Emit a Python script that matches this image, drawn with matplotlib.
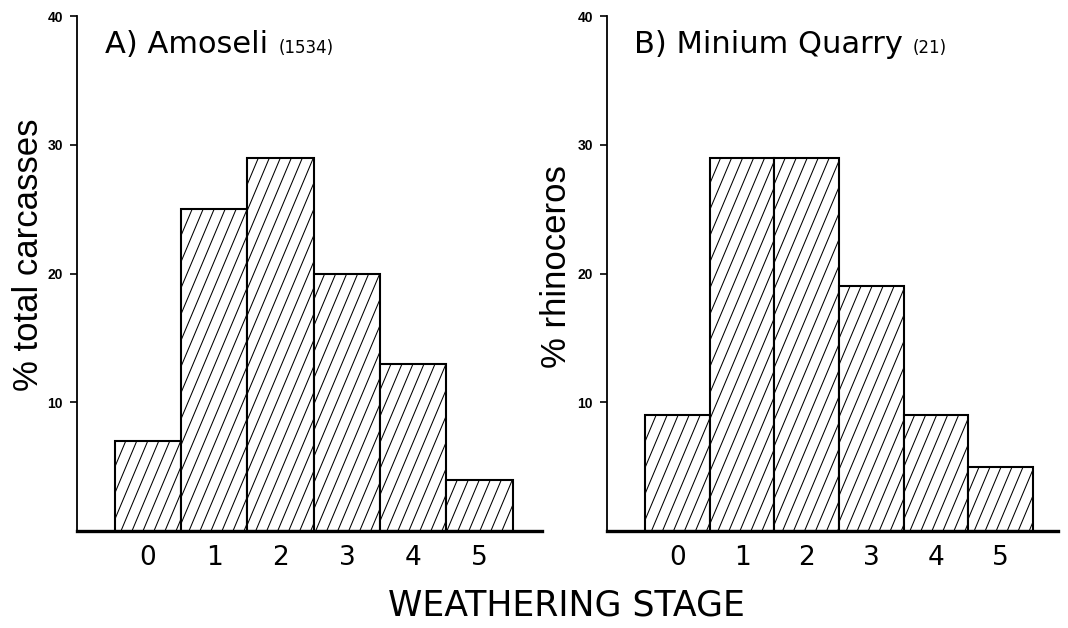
import matplotlib
matplotlib.use("Agg")
import matplotlib.pyplot as plt
import numpy as np
from matplotlib.collections import LineCollection
from matplotlib.transforms import IdentityTransform

stages = [0, 1, 2, 3, 4, 5]
stage_labels = ["0", "1", "2", "3", "4", "5"]
amboseli_pct = [7, 25, 29, 20, 13, 4]
minium_pct = [9, 29, 29, 19, 9, 5]
yticks = [10, 20, 30, 40]
ytick_labels = ["10", "20", "30", "40"]

plt.rcParams['font.family'] = ['DejaVu Sans']

fig = plt.figure(figsize=(10.68, 6.28), dpi=100)
axA = fig.add_axes([77/1068, 97/628, 465/1068, 515/628])
axB = fig.add_axes([607/1068, 97/628, 451/1068, 515/628])


def hatch_bars(ax, bars):
    # steep diagonal hatch lines clipped to each bar (decoration only)
    fig.canvas.draw()
    for b in bars:
        bb = b.get_window_extent()
        x0, x1, y0, y1 = bb.x0, bb.x1, bb.y0, bb.y1
        h = y1 - y0
        slope = 0.42  # dx per dy, pixels
        segs = []
        xs = np.arange(x0 - h * slope, x1 + 11, 11.0)
        for xs0 in xs:
            segs.append([(xs0, y0), (xs0 + h * slope, y1)])
        lc = LineCollection(segs, colors='black', linewidths=0.75,
                            transform=IdentityTransform(), zorder=1.5)
        ax.add_collection(lc, autolim=False)
        lc.set_clip_path(b)


def panel(ax, vals, xlim, title, tx):
    bars = ax.bar(stages, vals, width=1.0, color='white', edgecolor='black',
                  linewidth=1.5, zorder=1)
    ax.set_xlim(*xlim)
    ax.set_ylim(0, 40)
    ax.spines['top'].set_visible(False)
    ax.spines['right'].set_visible(False)
    ax.spines['left'].set_bounds(0, 40)
    ax.spines['left'].set_linewidth(1.3)
    ax.spines['bottom'].set_linewidth(2.4)
    ax.spines['bottom'].set_zorder(3)
    ax.set_yticks(yticks)
    ax.set_yticklabels(ytick_labels, fontsize=10, fontweight='bold',
                       family=['Liberation Sans Narrow', 'Liberation Sans'])
    ax.tick_params(axis='y', length=5, width=1.2, pad=5)
    ax.set_xticks(stages)
    ax.set_xticklabels(stage_labels, fontsize=19)
    ax.tick_params(axis='x', length=0, pad=10)
    ax.text(tx, (531 - 53) / 515, title, transform=ax.transAxes,
            fontsize=22, ha='left', va='baseline')
    return bars


barsA = panel(axA, amboseli_pct, (-1.07, 5.94), "A) Amoseli", (105 - 77) / 465)
barsB = panel(axB, minium_pct, (-1.09, 5.89), "B) Minium Quarry", (634 - 607) / 451)

axA.text((279 - 77) / 465, (531 - 53) / 515, "(1534)", transform=axA.transAxes,
         fontsize=12, ha='left', va='baseline')
axB.text((913 - 607) / 451, (531 - 53) / 515, "(21)", transform=axB.transAxes,
         fontsize=12, ha='left', va='baseline')

axA.text(-0.105, 0.536, "% total carcasses", transform=axA.transAxes,
         rotation=90, fontsize=25, ha='center', va='center',
         family=['Liberation Sans'])
axB.text(-0.113, 0.513, "% rhinoceros", transform=axB.transAxes,
         rotation=90, fontsize=25, ha='center', va='center',
         family=['Liberation Sans'])

fig.text(566/1068, 1 - 606/628, "WEATHERING STAGE", fontsize=25,
         ha='center', va='center')

hatch_bars(axA, barsA)
hatch_bars(axB, barsB)

fig.savefig("out.png", dpi=100)
